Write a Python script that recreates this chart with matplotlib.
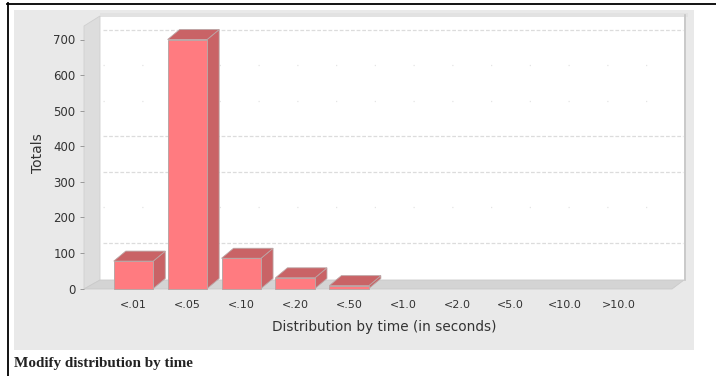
import matplotlib
matplotlib.use('Agg')
import matplotlib.pyplot as plt
from matplotlib.patches import Polygon, Rectangle

categories = ['<.01', '<.05', '<.10', '<.20', '<.50', '<1.0', '<2.0', '<5.0', '<10.0', '>10.0']
totals = [77, 700, 85, 30, 8, 0, 0, 0, 0, 0]
y_ticks = [0, 100, 200, 300, 400, 500, 600, 700]
strong_grid = [100, 300, 400, 700]
faint_grid = [200, 500, 600]

W, H = 716, 376
FRONT = '#ff7b80'
SHADE = '#c96366'
DEPTH_PX = (12, 10)

fig = plt.figure(figsize=(W / 100, H / 100), dpi=100, facecolor='white')
plt.rcParams['font.family'] = ['DejaVu Sans']

# page furniture and the box the chart sits in, in pixels
bg = fig.add_axes([0, 0, 1, 1])
bg.set_xlim(0, W)
bg.set_ylim(H, 0)
bg.axis('off')
bg.add_patch(Rectangle((14, 10), 680, 340, fc='#e9e9e9', ec='none'))
bg.add_patch(Rectangle((100, 13), 588, 4, fc='#e2e2e2', ec='none'))
bg.add_patch(Rectangle((100, 17), 584, 263, fc='white', ec='none'))
bg.plot([684.5, 684.5], [15, 280], color='#c4c4c4', lw=1.2)
bg.add_patch(Polygon([(84, 26), (100, 16), (100, 280), (84, 289)], fc='#dddddd', ec='#cfcfcf', lw=0.6))
bg.add_patch(Polygon([(84, 289), (100, 280), (684, 280), (672, 289)], fc='#d4d4d4', ec='#cacaca', lw=0.6))
bg.plot([7, W], [3.5, 3.5], color='black', lw=1.3)
bg.plot([7.5, 7.5], [3, H], color='black', lw=1.3)

# value axes: 0 sits at y=288.5 px, 700 at y=39.5 px, categories 53.9 px apart
left, right, bottom, top = 84, 672, 288.5, 39.5
ax = fig.add_axes([left / W, 1 - bottom / H, (right - left) / W, (bottom - top) / H])
ax.patch.set_alpha(0)
for side in ax.spines.values():
    side.set_visible(False)
step = 53.9
ax.set_xlim((left - 133.5) / step, (right - 133.5) / step)
ax.set_ylim(0, 700)
dx = DEPTH_PX[0] / step
dy = DEPTH_PX[1] * 700 / (bottom - top)

# grid lines lie on the back wall
x0, x1 = (103 - 133.5) / step, (683 - 133.5) / step
for v in strong_grid:
    ax.plot([x0, x1], [v + dy, v + dy], color='#dcdcdc', lw=0.9, ls=(0, (3, 1.5)), clip_on=False, zorder=1)
for v in faint_grid:
    ax.plot([x0, x1], [v + dy, v + dy], color='#e4e4e4', lw=0.9, ls=(0, (1, 30)), clip_on=False, zorder=1)

# each bar is a front face plus a top and side face pushed back by the depth
width = 39.5 / step
positions = list(range(len(categories)))
for i, v in zip(positions, totals):
    if v <= 0:
        continue
    l, r = i - width / 2, i + width / 2
    z = 3 + i
    ax.add_patch(Polygon([(r, 0), (r + dx, dy), (r + dx, v + dy), (r, v)], fc=SHADE, ec='#bba5a5', lw=0.6, clip_on=False, zorder=z))
    ax.add_patch(Polygon([(l, v), (l + dx, v + dy), (r + dx, v + dy), (r, v)], fc=SHADE, ec='#bba5a5', lw=0.6, clip_on=False, zorder=z))
    ax.bar(i, v, width=width, color=FRONT, edgecolor='#bba5a5', linewidth=0.7, clip_on=False, zorder=z)

ax.set_xticks(positions)
ax.set_xticklabels(categories, fontsize=8, color='#333333')
ax.set_yticks(y_ticks)
ax.tick_params(axis='x', length=0, pad=8)
ax.tick_params(axis='y', length=3, width=0.7, color='#999999', labelsize=8.5, labelcolor='#333333', pad=3)
ax.set_xlim((left - 133.5) / step, (right - 133.5) / step)

fig.text(384 / W, 1 - 327 / H, 'Distribution by time (in seconds)', ha='center', va='center', fontsize=9.8, color='#333333')
fig.text(38 / W, 1 - 153 / H, 'Totals', ha='center', va='center', rotation=90, fontsize=10, color='#333333')
fig.text(14 / W, 1 - 364 / H, 'Modify distribution by time', ha='left', va='center', fontsize=10.9,
         family='Liberation Serif', weight='bold', color='#222222')

fig.savefig('out.png', dpi=100)
